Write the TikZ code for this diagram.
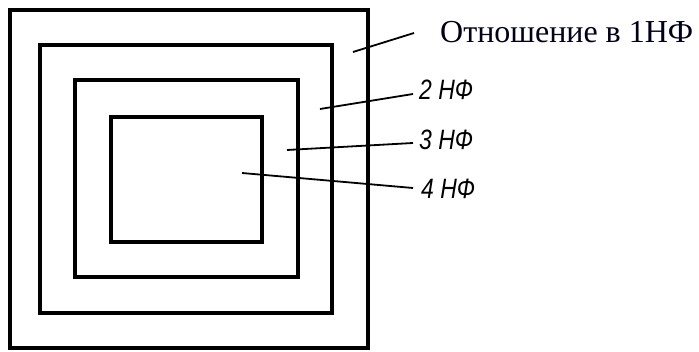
\documentclass[tikz,border=0pt]{standalone}
\usepackage{fontspec}
\setmainfont{Liberation Serif}
\newfontfamily\drawfont{Liberation Sans}
\begin{document}
\begin{tikzpicture}[x=1pt,y=-1pt,
  frame/.style={draw=black,line width=3.8pt,line join=miter},
  leader/.style={draw=black,line width=1.8pt},
  hand/.style={inner sep=0pt,anchor=west,font=\drawfont\itshape\fontsize{28}{28}\selectfont,xscale=0.82},
  title/.style={inner sep=0pt,anchor=west,font=\fontsize{32}{32}\selectfont,text=black!90!blue}]
\useasboundingbox[fill=white] (0,0) rectangle (699,352);
\draw[frame] (10,10) rectangle (368,348);
\draw[frame] (40,45) rectangle (332,313);
\draw[frame] (75,80) rectangle (298,277);
\draw[frame] (111,117) rectangle (262,242);
\coordinate (s1) at (353,52);
\coordinate (e1) at (414,33);
\coordinate (s2) at (320,109);
\coordinate (s3) at (287,150);
\coordinate (s4) at (242,173);
\node[title] (t1) at (440,32) {Отношение в 1НФ};
\node[hand] (t2) at (419,90) {2 НФ};
\node[hand] (t3) at (419,140) {3 НФ};
\node[hand] (t4) at (421,189) {4 НФ};
\draw[leader] (s1) -- (e1);
\draw[leader] (s2) -- (413,94);
\draw[leader] (s3) -- (413,143);
\draw[leader] (s4) -- (413,188);
\end{tikzpicture}
\end{document}
